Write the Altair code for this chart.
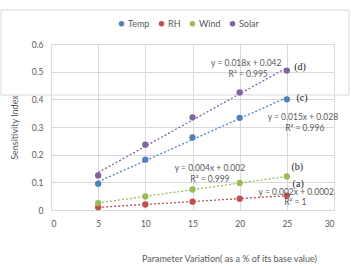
import altair as alt
import pandas as pd

# ---- data ----
variation = [5, 10, 15, 20, 25]
temp = [0.095, 0.182, 0.262, 0.333, 0.400]
rh = [0.010, 0.020, 0.030, 0.041, 0.052]
wind = [0.025, 0.049, 0.074, 0.098, 0.121]
solar = [0.125, 0.236, 0.335, 0.425, 0.504]

series_names = ["Temp", "RH", "Wind", "Solar"]
series_colors = ["#4F81BD", "#C0504D", "#9BBB59", "#8064A2"]

x_ticks = [0, 5, 10, 15, 20, 25, 30]
y_ticks = [0, 0.1, 0.2, 0.3, 0.4, 0.5, 0.6]

# trendline equation annotations
eq_text = ["y = 0.018x + 0.042", "R² = 0.995",
           "y = 0.015x + 0.028", "R² = 0.996",
           "y = 0.004x + 0.002", "R² = 0.999",
           "y = 0.002x + 0.0002", "R² = 1"]
eq_x = [20.7, 20.9, 26.7, 26.9, 16.85, 16.85, 26.0, 25.9]
eq_y = [0.531, 0.491, 0.336, 0.296, 0.152, 0.112, 0.065, 0.029]

tag_text = ["(d)", "(c)", "(b)", "(a)"]
tag_x = [26.4, 26.6, 26.1, 26.2]
tag_y = [0.517, 0.405, 0.155, 0.094]

rows = []
for name, vals in zip(series_names, [temp, rh, wind, solar]):
    for xv, yv in zip(variation, vals):
        rows.append({"x": xv, "y": yv, "series": name})
df = pd.DataFrame(rows)
eq_df = pd.DataFrame({"x": eq_x, "y": eq_y, "t": eq_text})
tag_df = pd.DataFrame({"x": tag_x, "y": tag_y, "t": tag_text})

FONT = "Lato"
GRAY = "#595959"

xscale = alt.Scale(domain=[0, 30])
yscale = alt.Scale(domain=[0, 0.6])
legend = alt.Legend(title=None, orient="none", direction="horizontal",
                    legendX=66, legendY=-25, symbolType="circle",
                    symbolSize=30, labelFontSize=9, labelFont=FONT,
                    labelColor=GRAY, columnPadding=7, symbolStrokeWidth=0,
                    labelOffset=2)
color = alt.Color("series:N",
                  scale=alt.Scale(domain=series_names, range=series_colors),
                  sort=series_names, legend=legend)

xaxis = alt.Axis(values=x_ticks, title="Parameter Variation( as a % of  its base value)",
                 titleX=178, titleY=44, titleFont=FONT, titleFontSize=9, titleFontWeight="normal",
                 titleColor=GRAY, labelFont=FONT, labelFontSize=8.5, labelColor=GRAY,
                 ticks=False, labelPadding=9, grid=True, gridColor="#D9D9D9",
                 domainColor="#D9D9D9", labelOverlap=False)
yaxis = alt.Axis(values=y_ticks, title="Sensitivity Index",
                 format=".1~f",
                 titleX=-32, titleFont=FONT, titleFontSize=9, titleFontWeight="normal",
                 titleColor=GRAY, labelFont=FONT, labelFontSize=8.5, labelColor=GRAY,
                 ticks=False, labelPadding=8, grid=True, gridColor="#D9D9D9",
                 domain=False, labelOverlap=False)

X = alt.X("x:Q", scale=xscale, axis=xaxis)
Y = alt.Y("y:Q", scale=yscale, axis=yaxis)

base = alt.Chart(df)

trend = base.transform_regression("x", "y", groupby=["series"], extent=[5, 25]).mark_line(
    strokeDash=[2, 2], strokeWidth=1.3
).encode(x=X, y=Y, color=color)

points = base.mark_circle(size=40, opacity=1).encode(x=X, y=Y, color=color)

eqs = alt.Chart(eq_df).mark_text(font=FONT, fontSize=8.5, color=GRAY, baseline="middle").encode(
    x=X, y=Y, text="t:N")

tags = alt.Chart(tag_df).mark_text(font="Liberation Serif", fontSize=10, fontWeight="normal",
                                   color="#222222", baseline="middle").encode(
    x=X, y=Y, text="t:N")

frame = alt.Chart(pd.DataFrame({"a": [0]})).mark_rect(fill=None, stroke="#D9D9D9", strokeWidth=1).encode(
    x=alt.value(-50), x2=alt.value(298), y=alt.value(-34), y2=alt.value(51))

chart = alt.layer(frame, trend, points, eqs, tags).properties(
    width=283, height=166,
    padding={"left": 51, "top": 44, "right": 17, "bottom": 56},
    autosize="none",
).configure_view(stroke="#D9D9D9").configure(background="white")

chart.save("out.html", embed_options={"renderer": "svg", "actions": False})
